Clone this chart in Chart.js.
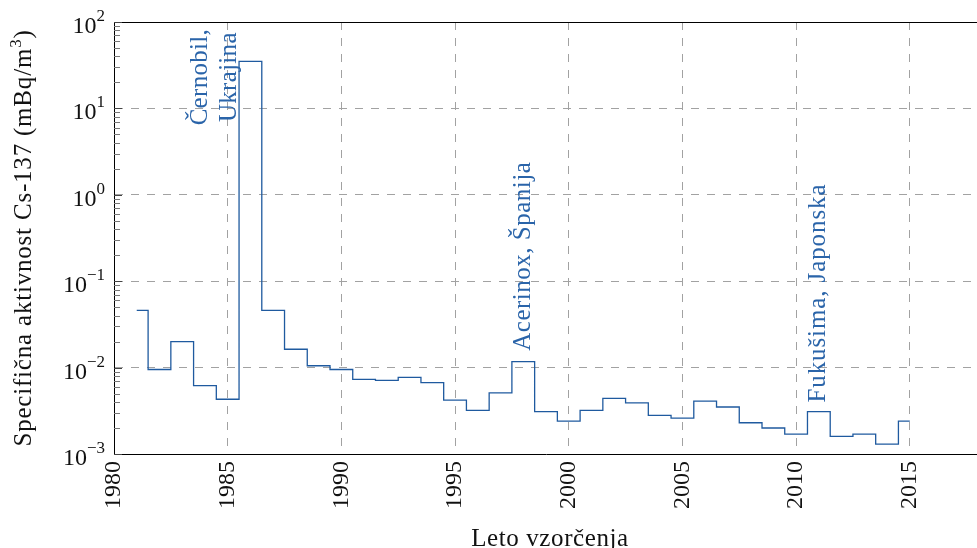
<!DOCTYPE html>
<html>
<head>
<meta charset="utf-8">
<script src="https://cdn.jsdelivr.net/npm/chart.js@4/dist/chart.umd.min.js"></script>
<style>
  html, body { margin: 0; padding: 0; overflow: hidden; background: #fff; }
  #wrap { width: 978px; height: 548px; position: relative; }
</style>
</head>
<body>
<div id="wrap"><canvas id="c"></canvas></div>
<script>
// Sampling years and measured Cs-137 specific activity (mBq/m3)
const years = [1981, 1982, 1983, 1984, 1985, 1986, 1987, 1988, 1989, 1990,
               1991, 1992, 1993, 1994, 1995, 1996, 1997, 1998, 1999, 2000,
               2001, 2002, 2003, 2004, 2005, 2006, 2007, 2008, 2009, 2010,
               2011, 2012, 2013, 2014, 2015];
const activity = [0.046, 0.0095, 0.020, 0.0062, 0.0043, 35, 0.046, 0.0163, 0.0105, 0.0095,
                  0.0073, 0.0071, 0.0077, 0.0067, 0.0042, 0.0032, 0.0051, 0.0117, 0.0031, 0.0024,
                  0.0032, 0.0044, 0.0039, 0.0028, 0.0026, 0.0041, 0.0035, 0.0023, 0.0020, 0.0017,
                  0.0031, 0.0016, 0.0017, 0.0013, 0.0024];

// Axis ticks
const xTickYears = [1980, 1985, 1990, 1995, 2000, 2005, 2010, 2015];
const yDecadeExponents = [-3, -2, -1, 0, 1, 2];

// Event labels
const chernobylLines = ['Černobil,', 'Ukrajina'];
const acerinoxLabel = 'Acerinox, Španija';
const acerinoxYear = 1998;
const fukushimaLabel = 'Fukušima, Japonska';
const fukushimaYear = 2011;

const BLUE_LINE = '#1f5a9f';
const BLUE_TEXT = '#2a64a9';
const GRID = '#a2a2a2';
const SERIF = '"Liberation Serif", "DejaVu Serif", serif';

const points = years.map((y, i) => ({ x: y, y: activity[i] }));
const valueAt = yr => activity[years.indexOf(yr)];

const decorations = {
  id: 'decorations',
  afterDraw(chart) {
    const { ctx, chartArea: a, scales: { x, y } } = chart;
    ctx.save();

    // top frame line
    ctx.strokeStyle = '#000';
    ctx.lineWidth = 1;
    ctx.beginPath();
    ctx.moveTo(a.left, a.top + 0.5);
    ctx.lineTo(a.right, a.top + 0.5);
    ctx.stroke();

    // minor ticks on the log axis
    ctx.strokeStyle = '#777';
    ctx.beginPath();
    for (let e = -3; e < 2; e++) {
      for (let k = 2; k <= 9; k++) {
        const py = Math.round(y.getPixelForValue(k * Math.pow(10, e))) + 0.5;
        ctx.moveTo(a.left, py);
        ctx.lineTo(a.left + 6, py);
      }
    }
    ctx.stroke();
    ctx.strokeStyle = '#444';
    ctx.beginPath();
    yDecadeExponents.forEach(e => {
      const py = Math.round(y.getPixelForValue(Math.pow(10, e))) + 0.5;
      ctx.moveTo(a.left, py);
      ctx.lineTo(a.left + 8, py);
    });
    ctx.stroke();

    // decade labels 10^n
    ctx.fillStyle = '#111';
    ctx.textBaseline = 'alphabetic';
    yDecadeExponents.forEach(e => {
      const py = y.getPixelForValue(Math.pow(10, e));
      const exp = e < 0 ? '\u2212' + (-e) : String(e);
      ctx.font = '17px ' + SERIF;
      const ew = ctx.measureText(exp).width;
      const right = a.left - 9;
      ctx.textAlign = 'left';
      ctx.fillText(exp, right - ew, py - 1);
      ctx.font = '24px ' + SERIF;
      ctx.textAlign = 'right';
      ctx.fillText('10', right - ew, py + 11);
    });

    // y axis title with superscript
    ctx.save();
    ctx.translate(31, (a.top + a.bottom) / 2);
    ctx.rotate(-Math.PI / 2);
    ctx.letterSpacing = '0.8px';
    const main = 'Specifična aktivnost Cs-137 (mBq/m';
    const tail = ')';
    ctx.font = '25px ' + SERIF;
    const wMain = ctx.measureText(main).width;
    const wTail = ctx.measureText(tail).width;
    ctx.font = '17px ' + SERIF;
    const wSup = ctx.measureText('3').width;
    const total = wMain + wSup + wTail;
    let sx = -total / 2;
    ctx.textAlign = 'left';
    ctx.textBaseline = 'alphabetic';
    ctx.font = '25px ' + SERIF;
    ctx.fillText(main, sx, 0);
    sx += wMain;
    ctx.font = '17px ' + SERIF;
    ctx.fillText('3', sx, -10);
    sx += wSup;
    ctx.font = '25px ' + SERIF;
    ctx.fillText(tail, sx, 0);
    ctx.restore();

    // x axis title
    ctx.save();
    ctx.letterSpacing = '0.6px';
    ctx.font = '25px ' + SERIF;
    ctx.textAlign = 'center';
    ctx.textBaseline = 'alphabetic';
    ctx.fillText('Leto vzorčenja', (a.left + a.right) / 2 + 4, 546);
    ctx.restore();

    // event annotations (rotated, reading upward)
    ctx.fillStyle = BLUE_TEXT;
    ctx.font = '25px ' + SERIF;
    const vertical = (text, px, py, align, spacing) => {
      ctx.save();
      ctx.translate(px, py);
      ctx.rotate(-Math.PI / 2);
      ctx.letterSpacing = spacing;
      ctx.textAlign = align;
      ctx.textBaseline = 'middle';
      ctx.fillText(text, 0, 0);
      ctx.restore();
    };
    const cx = x.getPixelForValue(1984.42);
    const cy = y.getPixelForValue(23);
    vertical(chernobylLines[0], cx - 14.5, cy, 'center', '0.3px');
    vertical(chernobylLines[1], cx + 14.5, cy, 'center', '0.3px');
    vertical(acerinoxLabel, x.getPixelForValue(acerinoxYear), y.getPixelForValue(valueAt(acerinoxYear)) - 11, 'left', '0.5px');
    vertical(fukushimaLabel, x.getPixelForValue(fukushimaYear), y.getPixelForValue(valueAt(fukushimaYear)) - 9, 'left', '0.9px');

    ctx.restore();
  }
};

new Chart(document.getElementById('c'), {
  type: 'line',
  data: {
    datasets: [{
      data: points,
      stepped: 'middle',
      borderColor: BLUE_LINE,
      borderWidth: 1.3,
      pointRadius: 0,
      fill: false
    }]
  },
  options: {
    responsive: true,
    maintainAspectRatio: false,
    animation: false,
    events: [],
    layout: { padding: { top: 22, left: 0, right: 0, bottom: 0 } },
    plugins: { legend: { display: false }, tooltip: { enabled: false } },
    scales: {
      x: {
        type: 'linear',
        min: 1980,
        max: 2018,
        afterBuildTicks: s => { s.ticks = xTickYears.map(v => ({ value: v })); },
        afterFit: s => { s.height = 94; s.paddingLeft = 0; s.paddingRight = 0; },
        ticks: {
          minRotation: 90,
          maxRotation: 90,
          padding: 7,
          color: '#111',
          font: { family: SERIF, size: 24 },
          callback: v => String(v)
        },
        grid: { color: GRID, lineWidth: 1, drawTicks: false },
        border: { color: '#000', width: 1, dash: [8, 8] }
      },
      y: {
        type: 'logarithmic',
        min: 1e-3,
        max: 1e2,
        afterBuildTicks: s => { s.ticks = yDecadeExponents.map(e => ({ value: Math.pow(10, e) })); },
        afterFit: s => { s.width = 114; s.paddingTop = 0; s.paddingBottom = 0; },
        ticks: { display: false },
        grid: { color: GRID, lineWidth: 1, drawTicks: false },
        border: { color: '#000', width: 1, dash: [8, 8] }
      }
    }
  },
  plugins: [decorations]
});
</script>
</body>
</html>
